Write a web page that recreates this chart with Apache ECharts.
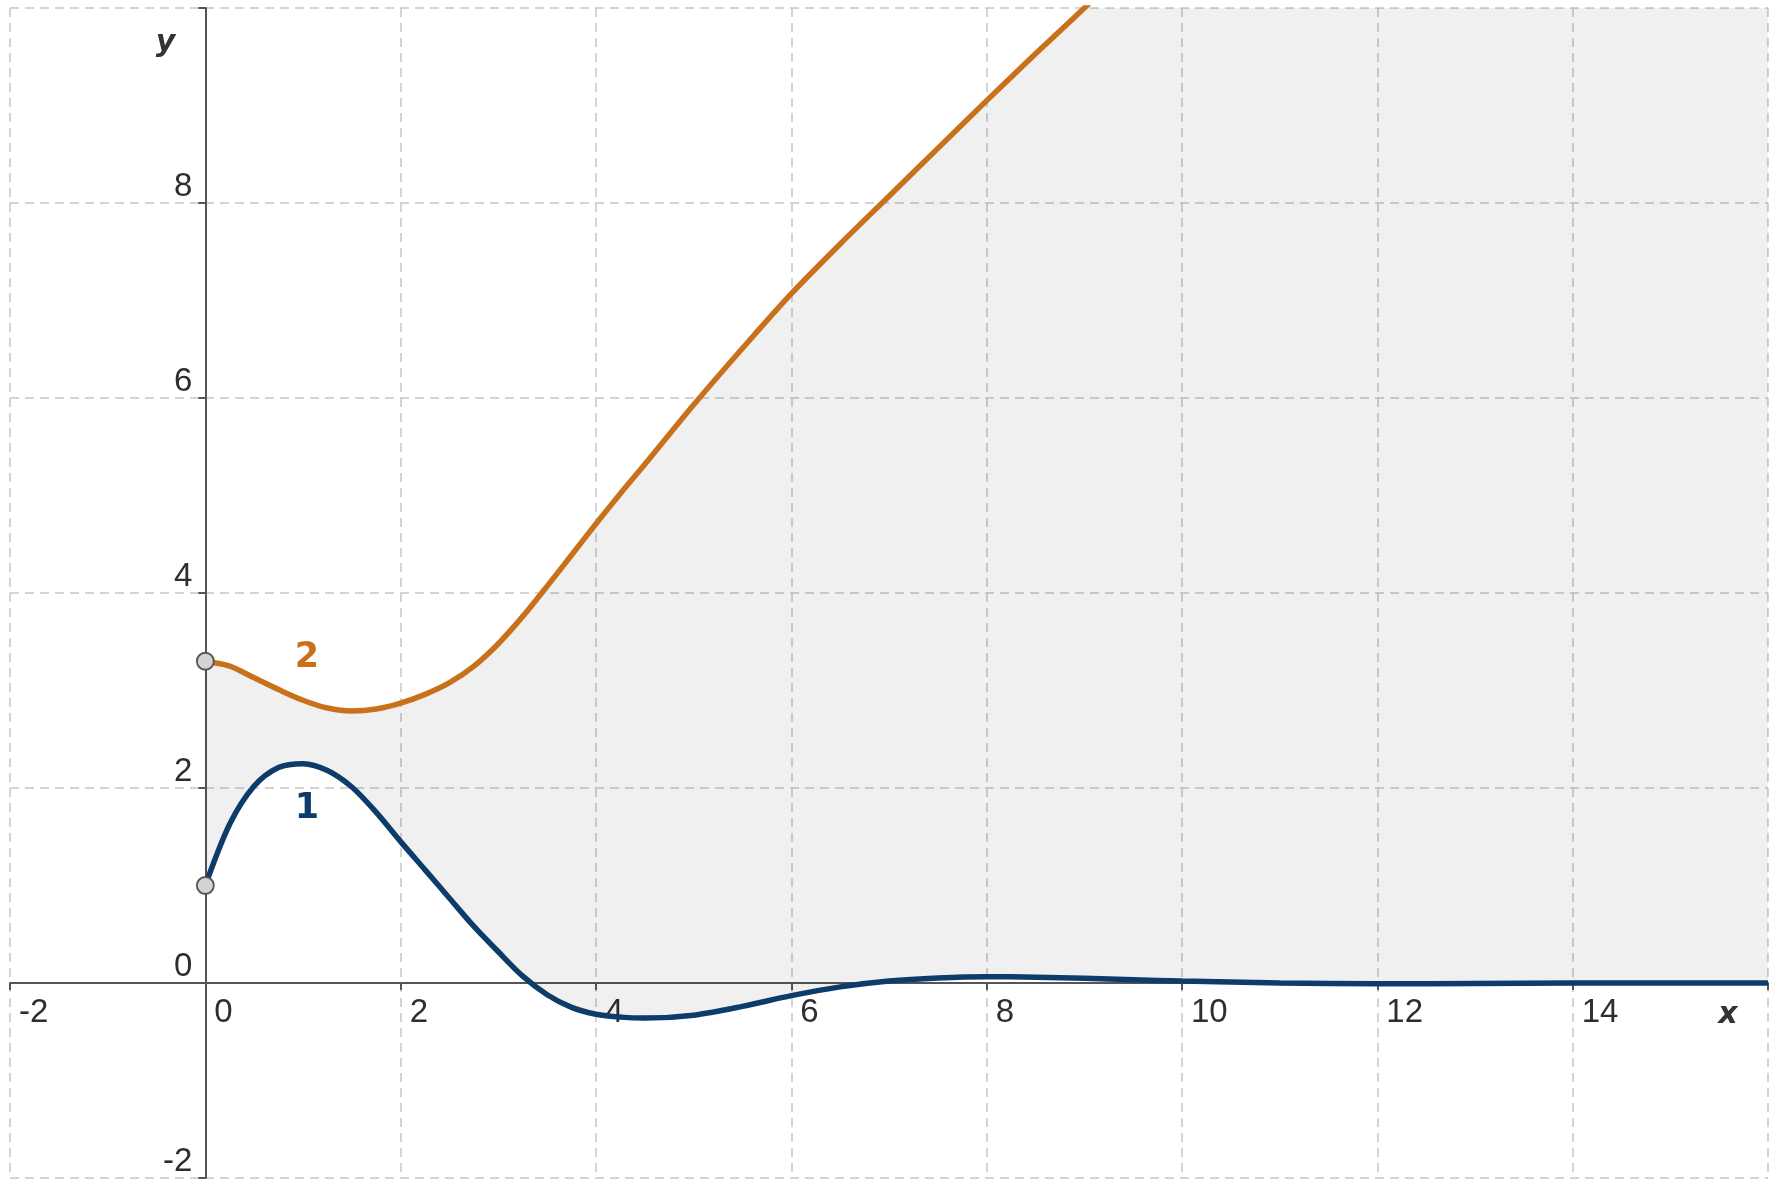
<!DOCTYPE html>
<html>
<head>
<meta charset="utf-8">
<script src="https://cdn.jsdelivr.net/npm/echarts@6/dist/echarts.min.js"></script>
<style>
html,body{margin:0;padding:0;background:#fff;}
#chart{width:1771px;height:1179px;}
</style>
</head>
<body>
<div id="chart"></div>
<script>
// ---- data ----
const xValues = [0,0.25,0.5,0.75,1,1.25,1.5,1.75,2,2.25,2.5,2.75,3,3.25,3.5,3.75,4,4.25,4.5,5,5.5,6,6.5,7,7.5,8,8.5,9,9.5,10,11,12,13,14,15,16];
const curve1 = [1.00,1.63,2.02,2.21,2.25,2.18,2.01,1.75,1.45,1.16,0.87,0.58,0.32,0.07,-0.12,-0.25,-0.32,-0.35,-0.36,-0.33,-0.24,-0.13,-0.04,0.02,0.052,0.065,0.06,0.048,0.034,0.02,0.0,-0.008,-0.004,0,0,0];
const curve2 = [3.30,3.25,3.13,3.01,2.90,2.82,2.79,2.81,2.87,2.96,3.08,3.25,3.48,3.76,4.07,4.39,4.71,5.02,5.32,5.93,6.51,7.07,7.58,8.07,8.56,9.05,9.53,10.0,10.47,10.94,11.9,12.85,13.8,14.75,15.7,16.65];
const curveNames = ['1','2'];
const curveLabelX = [1.04,1.04];
const curveLabelY = [1.79,3.33];
const xTicks = [-2,0,2,4,6,8,10,12,14,16];
const yTicksShown = [-2,0,2,4,6,8];
const xRange = [-2,16];
const yRange = [-2,10];

// ---- style ----
const colors = ['#0d3c6a','#c9711a'];
const fontFam = 'DejaVu Sans';
const tickFont = 'Liberation Sans';
const SM = 0.3;

const pts1 = xValues.map((x,i)=>[x,curve1[i]]);
const pts2 = xValues.map((x,i)=>[x,curve2[i]]);

function renderBand(params, api){
  if (params.dataIndex !== 0) return null;
  const pts = [];
  for (let i=0;i<xValues.length;i++) pts.push(api.coord([xValues[i],curve1[i]]));
  for (let i=xValues.length-1;i>=0;i--) pts.push(api.coord([xValues[i],curve2[i]]));
  const cs = params.coordSys;
  const clipped = echarts.graphic.clipPointsByRect(pts,{x:cs.x,y:cs.y,width:cs.width,height:cs.height});
  return {type:'polygon',shape:{points:clipped},style:{fill:'rgba(0,0,0,0.06)'},silent:true};
}

const chart = echarts.init(document.getElementById('chart'), null, {renderer:'canvas'});
const option = {
  animation:false,
  backgroundColor:'#ffffff',
  grid:{left:10,right:3,top:8,bottom:1,containLabel:false,outerBoundsMode:'none'},
  xAxis:{
    type:'value', min:xRange[0], max:xRange[1], interval:2, offset:0,
    name:'x', nameLocation:'end', nameGap:-40, nameMoveOverlap:false,
    nameTextStyle:{fontFamily:fontFam,fontSize:30,fontStyle:'italic',fontWeight:'bold',color:'#333',align:'center',verticalAlign:'top',padding:[17,0,0,0]},
    axisLine:{show:true,onZero:false,lineStyle:{color:'#555',width:2}},
    axisTick:{show:true,length:7,lineStyle:{color:'#555',width:2}},
    axisLabel:{show:true,align:'left',verticalAlign:'middle',margin:30,padding:[0,0,0,9],fontFamily:tickFont,fontSize:33,color:'#2e2e2e',
      showMinLabel:true,showMaxLabel:true,
      formatter:v=>xTicks.includes(v)?String(v):''},
    splitLine:{show:true,lineStyle:{color:'#c6c6c6',width:1.5,type:[9,6]}}
  },
  yAxis:{
    type:'value', min:yRange[0], max:yRange[1], interval:2, offset:0,
    name:'y', nameLocation:'end', nameGap:-35, nameMoveOverlap:false,
    nameTextStyle:{fontFamily:fontFam,fontSize:30,fontStyle:'italic',fontWeight:'bold',color:'#333',align:'right',verticalAlign:'middle',padding:[0,30,0,0]},
    axisLine:{show:true,onZero:false,lineStyle:{color:'#555',width:2}},
    axisTick:{show:true,length:7,lineStyle:{color:'#555',width:2}},
    axisLabel:{show:true,align:'right',verticalAlign:'bottom',margin:13,padding:[0,0,0,0],fontFamily:tickFont,fontSize:33,color:'#2e2e2e',
      showMinLabel:true,showMaxLabel:true,
      formatter:v=>yTicksShown.includes(v)?String(v):''},
    splitLine:{show:true,lineStyle:{color:'#c6c6c6',width:1.5,type:[9,6]}}
  },
  series:[
    {type:'custom',renderItem:renderBand,data:[[xValues[0],curve1[0]]],clip:true,silent:true,z:1},
    {type:'line',data:pts1,smooth:SM,symbol:'none',lineStyle:{color:colors[0],width:5.5},z:3},
    {type:'line',data:pts2,smooth:SM,symbol:'none',lineStyle:{color:colors[1],width:5.5},z:3},
    {type:'scatter',data:[[xValues[0],curve1[0]],[xValues[0],curve2[0]]],symbol:'circle',symbolSize:17,
      itemStyle:{color:'#d3d3d3',borderColor:'#555',borderWidth:1.8,opacity:1},z:5},
    {type:'scatter',symbolSize:0,z:6,itemStyle:{opacity:1},
      data:curveNames.map((t,i)=>({value:[curveLabelX[i],curveLabelY[i]],name:t,
        label:{show:true,position:'inside',formatter:t,fontFamily:fontFam,fontSize:35,fontWeight:'bold',color:colors[i]}}))}
  ]
};
chart.setOption(option);
// move both axes to the origin using the library's own scales
const origin = chart.convertToPixel({gridIndex:0},[0,0]);
const corner = chart.convertToPixel({gridIndex:0},[xRange[0],yRange[0]]);
chart.setOption({
  xAxis:{offset:-(corner[1]-origin[1])},
  yAxis:{offset:-(origin[0]-corner[0])}
});
</script>
</body>
</html>
